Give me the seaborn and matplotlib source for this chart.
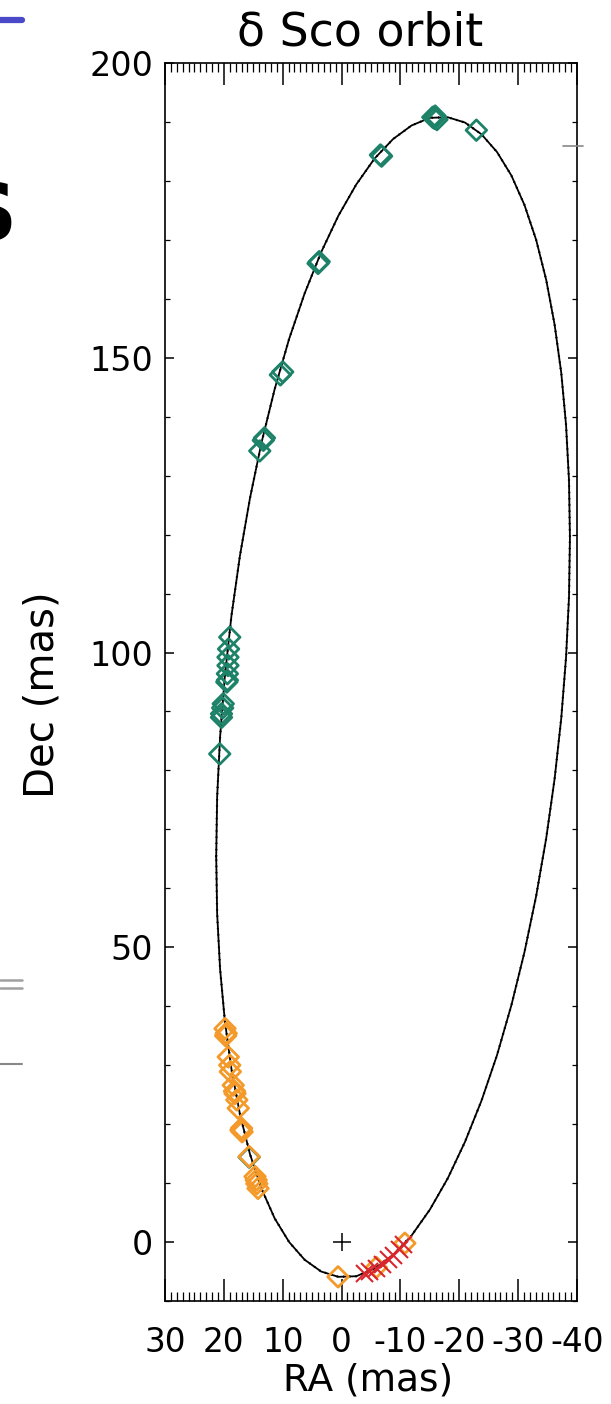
import matplotlib
matplotlib.use("Agg")
import matplotlib.pyplot as plt
import pandas as pd
import seaborn as sns
from matplotlib.ticker import MultipleLocator
from matplotlib.lines import Line2D

# ---------------- data ----------------
# fitted orbit, traced around the ellipse
orbit_ra = [21.30, 21.14, 20.64, 19.83, 18.70, 17.27, 15.56, 13.58, 11.36, 8.91,
            6.28, 3.47, 0.54, -2.50, -5.61, -8.75, -11.89, -15.00, -18.04, -20.97,
            -23.78, -26.41, -28.86, -31.08, -33.06, -34.77, -36.20, -37.33, -38.14, -38.64,
            -38.80, -38.64, -38.14, -37.33, -36.20, -34.77, -33.06, -31.08, -28.86, -26.41,
            -23.78, -20.97, -18.04, -15.00, -11.89, -8.75, -5.61, -2.50, 0.54, 3.47,
            6.28, 8.91, 11.36, 13.58, 15.56, 17.27, 18.70, 19.83, 20.64, 21.14, 21.30]
orbit_dec = [65.4, 75.5, 85.7, 96.0, 106.3, 116.4, 126.2, 135.7, 144.7, 153.2,
             160.9, 167.9, 174.1, 179.4, 183.8, 187.1, 189.4, 190.7, 190.8, 189.9,
             187.9, 184.9, 180.9, 175.9, 170.0, 163.2, 155.6, 147.4, 138.6, 129.2,
             119.5, 109.4, 99.2, 88.9, 78.6, 68.5, 58.7, 49.2, 40.2, 31.7,
             24.0, 17.0, 10.8, 5.5, 1.1, -2.2, -4.5, -5.8, -5.9, -5.0,
             -3.0, 0.0, 4.0, 9.0, 14.9, 21.7, 29.3, 37.5, 46.3, 55.7, 65.4]

green_ra = [-15.8, -15.5, -16.2, -15.9, -22.9, -6.6, -6.8, 4.0, 3.8, 10.4, 10.0,
            13.3, 13.1, 13.9, 19.0, 19.2, 19.3, 19.3, 19.4, 19.4, 19.5,
            20.1, 20.2, 20.4, 20.4, 20.7, 15.7]
green_dec = [190.6, 190.8, 190.4, 191.0, 188.6, 184.4, 184.2, 166.0, 166.3, 147.1, 147.6,
             136.0, 136.4, 134.2, 102.6, 100.6, 99.2, 97.8, 96.4, 95.3, 95.0,
             91.3, 90.6, 89.6, 89.0, 82.8, 14.4]

orange_ra = [19.8, 19.6, 19.7, 19.25, 19.0, 18.9, 18.4, 18.2, 18.1, 17.8, 17.55,
             17.0, 16.9, 17.1, 15.7, 14.7, 14.4, 14.2, 14.5, 0.6, -5.9, -10.75]
orange_dec = [36.2, 35.4, 35.0, 31.4, 30.0, 28.9, 26.6, 25.6, 25.2, 24.1, 22.7,
              19.3, 18.7, 19.0, 14.5, 11.1, 9.9, 9.1, 10.5, -5.9, -4.3, -0.2]

red_ra = [-3.8, -4.6, -5.9, -6.8, -7.9, -8.8, -9.8, -10.5]
red_dec = [-5.3, -4.95, -4.35, -3.8, -2.9, -2.2, -1.1, -0.3]

primary_ra = [0.0]
primary_dec = [0.0]

x_ticks = [30, 20, 10, 0, -10, -20, -30, -40]
x_ticklabels = ["30", "20", "10", "0", "-10", "-20", "-30", "-40"]
y_ticks = [0, 50, 100, 150, 200]
y_ticklabels = ["0", "50", "100", "150", "200"]

title_text = "δ Sco orbit"
x_label = "RA (mas)"
y_label = "Dec (mas)"

GREEN = "#1e8269"
ORANGE = "#f39a2a"
RED = "#d8262c"

# ---------------- figure ----------------
sns.set_theme(style="white")
plt.rcParams["font.family"] = ["DejaVu Sans"]
plt.rcParams["axes.unicode_minus"] = False
plt.rcParams["text.color"] = "black"
plt.rcParams["axes.labelcolor"] = "black"
plt.rcParams["xtick.color"] = "black"
plt.rcParams["ytick.color"] = "black"

W, H = 611, 1404
fig = plt.figure(figsize=(W / 100, H / 100), dpi=100)
L, R, T, B = 165, 577, 63, 1301
ax = fig.add_axes([L / W, 1 - B / H, (R - L) / W, (B - T) / H])

orbit = pd.DataFrame({"ra": orbit_ra, "dec": orbit_dec})
sns.lineplot(data=orbit, x="ra", y="dec", sort=False, estimator=None,
             color="black", linewidth=1.3, ax=ax)
sns.lineplot(data=orbit, x="ra", y="dec", sort=False, estimator=None,
             color="black", linewidth=1.6, linestyle=(0, (0.6, 2.2)), ax=ax)

sns.scatterplot(x=green_ra, y=green_dec, marker="D", s=110, color=GREEN,
                facecolor="none", edgecolor=GREEN, linewidth=2.0, ax=ax, zorder=3)
sns.scatterplot(x=orange_ra, y=orange_dec, marker="D", s=110, color=ORANGE,
                facecolor="none", edgecolor=ORANGE, linewidth=2.0, ax=ax, zorder=4)
sns.scatterplot(x=red_ra, y=red_dec, marker="x", s=150, color=RED,
                edgecolor=RED, linewidth=1.5, ax=ax, zorder=5)
sns.scatterplot(x=primary_ra, y=primary_dec, marker="+", s=170, color="black",
                edgecolor="black", linewidth=1.1, ax=ax, zorder=5)

ax.set_xlim(30, -40)
ax.set_ylim(-10, 200)
ax.set_xticks(x_ticks)
ax.set_xticklabels(x_ticklabels)
ax.set_yticks(y_ticks)
ax.set_yticklabels(y_ticklabels)
ax.xaxis.set_minor_locator(MultipleLocator(1))
ax.yaxis.set_minor_locator(MultipleLocator(10))
ax.tick_params(which="both", direction="in", top=True, right=True,
               bottom=True, left=True, color="black", labelcolor="black")
ax.tick_params(axis="x", which="major", length=16, width=1.1, pad=18, labelsize=23.5)
ax.tick_params(axis="x", which="minor", length=6.5, width=0.9)
ax.tick_params(axis="y", which="major", length=6.5, width=1.1, pad=8.5, labelsize=24)
ax.tick_params(axis="y", which="minor", length=3.5, width=0.9)
for sp in ax.spines.values():
    sp.set_color("black")
    sp.set_linewidth(1.2)

ax.set_xlabel(x_label, fontsize=27, color="black")
ax.set_ylabel(y_label, fontsize=29, color="black")
ax.xaxis.set_label_coords((368 - L) / (R - L), (B - 1362) / (B - T))
ax.yaxis.set_label_coords((62 - L) / (R - L), (B - 695) / (B - T))

fig.text(360 / W, 1 - 45 / H, title_text, ha="center", va="baseline",
         fontsize=33, color="black")

# slide fragments around the chart
fig.add_artist(Line2D([0, 22 / W], [1 - 20 / H, 1 - 20 / H], color="#4a4ac8", lw=4.5))
fig.text(-40 / W, 1 - 240 / H, "S", fontsize=56, fontweight="bold",
         ha="left", va="baseline", color="black")
fig.add_artist(Line2D([0, 22 / W], [1 - 980 / H, 1 - 980 / H], color="#a0a0a0", lw=1.8))
fig.add_artist(Line2D([0, 22 / W], [1 - 988 / H, 1 - 988 / H], color="#a0a0a0", lw=1.8))
fig.add_artist(Line2D([0, 22 / W], [1 - 1064 / H, 1 - 1064 / H], color="#888888", lw=1.5))
fig.add_artist(Line2D([563 / W, 583 / W], [1 - 146 / H, 1 - 146 / H], color="#888888", lw=1.2))

fig.savefig("out.png", dpi=100)
